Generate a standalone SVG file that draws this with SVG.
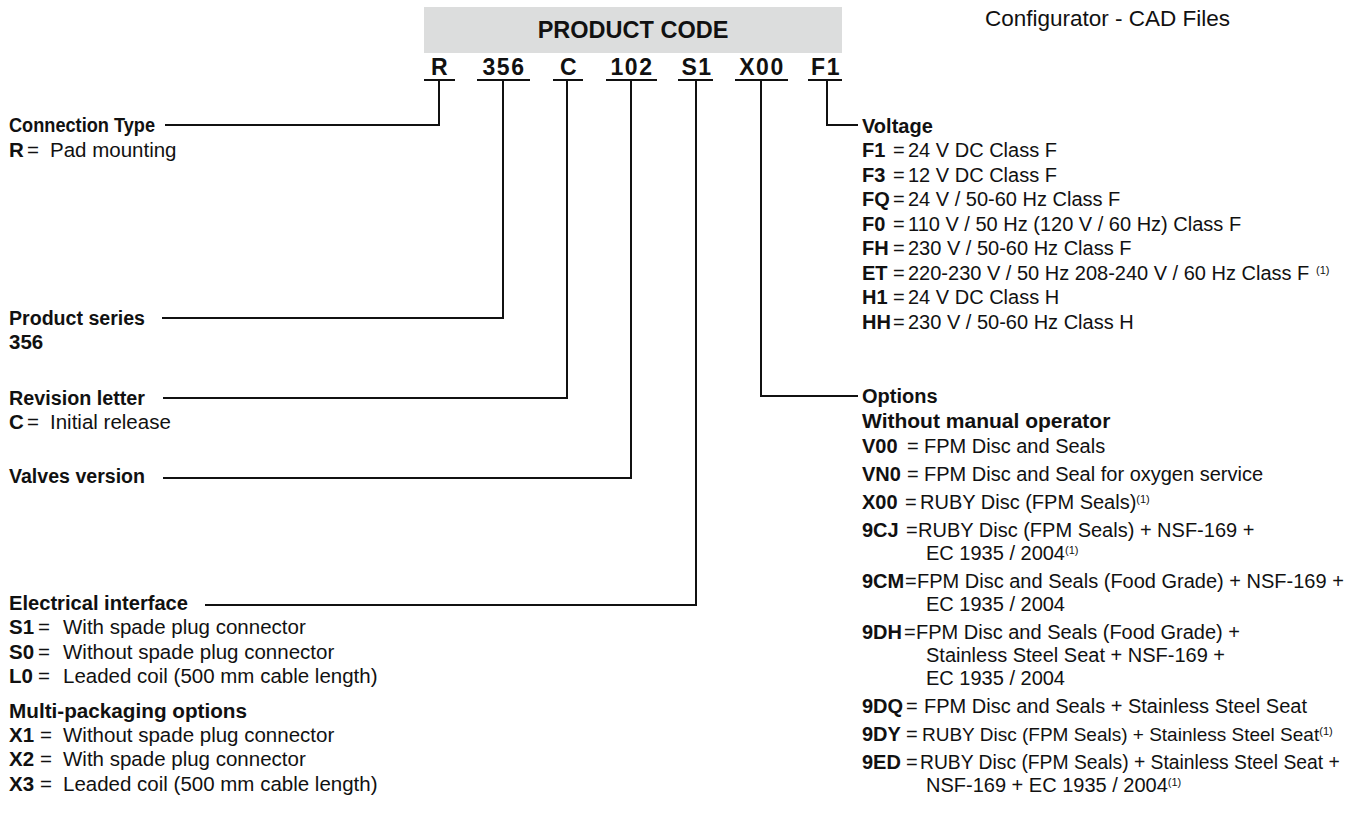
<svg xmlns="http://www.w3.org/2000/svg" width="1354" height="828" viewBox="0 0 1354 828">
<style>
text{font-family:"Liberation Sans",Arial,sans-serif;fill:#111;}
.h{font-weight:bold;font-size:20px;}
.b{font-size:20.5px;}
.r{font-size:20px;}
.k{font-weight:bold;}
.code{font-weight:bold;font-size:23px;text-anchor:middle;letter-spacing:1.5px;}
.sup{font-size:11px;}
.ln{stroke:#111;stroke-width:2;fill:none;}
</style>
<rect width="1354" height="828" fill="#fff"/>
<text x="985" y="26" style="font-size:22.5px">Configurator - CAD Files</text>
<g id="product-code">
<rect x="424" y="7" width="418" height="46" fill="#dcdddd"/>
<text x="633" y="38" style="font-weight:bold;font-size:23.5px;text-anchor:middle">PRODUCT CODE</text>
<text x="440" y="75" class="code">R</text>
<text x="504" y="75" class="code">356</text>
<text x="569" y="75" class="code">C</text>
<text x="632" y="75" class="code">102</text>
<text x="697" y="75" class="code">S1</text>
<text x="762" y="75" class="code">X00</text>
<text x="826" y="75" class="code">F1</text>
<path class="ln" d="M424 80H455M477 80H530M553 80H583M606 80H657M678 80H713M735 80H788M808 80H842"/>
</g>
<g id="connectors">
<path class="ln" d="M439 80V125H165"/>
<path class="ln" d="M503 80V318H162"/>
<path class="ln" d="M567 80V398H163"/>
<path class="ln" d="M631 80V478H163"/>
<path class="ln" d="M696 80V605H205"/>
<path class="ln" d="M761 80V396H858"/>
<path class="ln" d="M827 80V125H858"/>
</g>
<g id="connection-type">
<text x="9" y="132" class="h" textLength="146" lengthAdjust="spacingAndGlyphs">Connection Type</text>
<text x="9" y="157" class="b"><tspan class="k">R</tspan><tspan x="27">=</tspan><tspan x="50">Pad mounting</tspan></text>
</g>
<g id="product-series">
<text x="9" y="325" class="h" textLength="136" lengthAdjust="spacingAndGlyphs">Product series</text>
<text x="9" y="349" class="b k">356</text>
</g>
<g id="revision-letter">
<text x="9" y="405" class="h" textLength="136" lengthAdjust="spacingAndGlyphs">Revision letter</text>
<text x="9" y="429" class="b"><tspan class="k">C</tspan><tspan x="27">=</tspan><tspan x="50">Initial release</tspan></text>
</g>
<g id="valves-version">
<text x="9" y="483" class="h" textLength="136" lengthAdjust="spacingAndGlyphs">Valves version</text>
</g>
<g id="electrical-interface">
<text x="9" y="610" class="h" textLength="179" lengthAdjust="spacingAndGlyphs">Electrical interface</text>
<text x="9" y="634" class="b"><tspan class="k">S1</tspan><tspan x="38">=</tspan><tspan x="63">With spade plug connector</tspan></text>
<text x="9" y="659" class="b"><tspan class="k">S0</tspan><tspan x="38">=</tspan><tspan x="63">Without spade plug connector</tspan></text>
<text x="9" y="683" class="b"><tspan class="k">L0</tspan><tspan x="38">=</tspan><tspan x="63">Leaded coil (500 mm cable length)</tspan></text>
<text x="9" y="718" class="h" textLength="238" lengthAdjust="spacingAndGlyphs">Multi-packaging options</text>
<text x="9" y="742" class="b"><tspan class="k">X1</tspan><tspan x="40">=</tspan><tspan x="63">Without spade plug connector</tspan></text>
<text x="9" y="766" class="b"><tspan class="k">X2</tspan><tspan x="40">=</tspan><tspan x="63">With spade plug connector</tspan></text>
<text x="9" y="791" class="b"><tspan class="k">X3</tspan><tspan x="40">=</tspan><tspan x="63">Leaded coil (500 mm cable length)</tspan></text>
</g>
<g id="voltage">
<text x="862" y="133" class="h">Voltage</text>
<text x="862" y="157" class="r"><tspan class="k">F1</tspan><tspan x="893">=</tspan><tspan x="908">24 V DC Class F</tspan></text>
<text x="862" y="182" class="r"><tspan class="k">F3</tspan><tspan x="893">=</tspan><tspan x="908">12 V DC Class F</tspan></text>
<text x="862" y="206" class="r"><tspan class="k">FQ</tspan><tspan x="893">=</tspan><tspan x="908">24 V / 50-60 Hz Class F</tspan></text>
<text x="862" y="231" class="r"><tspan class="k">F0</tspan><tspan x="893">=</tspan><tspan x="908">110 V / 50 Hz (120 V / 60 Hz) Class F</tspan></text>
<text x="862" y="255" class="r"><tspan class="k">FH</tspan><tspan x="893">=</tspan><tspan x="908">230 V / 50-60 Hz Class F</tspan></text>
<text x="862" y="280" class="r"><tspan class="k">ET</tspan><tspan x="893">=</tspan><tspan x="908">220-230 V / 50 Hz 208-240 V / 60 Hz Class F</tspan><tspan class="sup" x="1316" dy="-6">(1)</tspan></text>
<text x="862" y="304" class="r"><tspan class="k">H1</tspan><tspan x="893">=</tspan><tspan x="908">24 V DC Class H</tspan></text>
<text x="862" y="329" class="r"><tspan class="k">HH</tspan><tspan x="893">=</tspan><tspan x="908">230 V / 50-60 Hz Class H</tspan></text>
</g>
<g id="options">
<text x="862" y="403" class="h">Options</text>
<text x="862" y="428" class="h" style="font-size:21px">Without manual operator</text>
<text x="862" y="453" class="r"><tspan class="k">V00</tspan><tspan x="907">=</tspan><tspan x="924">FPM Disc and Seals</tspan></text>
<text x="862" y="481" class="r"><tspan class="k">VN0</tspan><tspan x="907">=</tspan><tspan x="924">FPM Disc and Seal for oxygen service</tspan></text>
<text x="862" y="509" class="r"><tspan class="k">X00</tspan><tspan x="905">=</tspan><tspan x="920">RUBY Disc (FPM Seals)</tspan><tspan class="sup" dy="-6">(1)</tspan></text>
<text x="862" y="537" class="r"><tspan class="k">9CJ</tspan><tspan x="906">=</tspan><tspan x="918">RUBY Disc (FPM Seals) + NSF-169 +</tspan></text>
<text x="926" y="560" class="r">EC 1935 / 2004<tspan class="sup" dy="-6">(1)</tspan></text>
<text x="862" y="588" class="r"><tspan class="k">9CM</tspan><tspan x="905">=</tspan><tspan x="917">FPM Disc and Seals (Food Grade) + NSF-169 +</tspan></text>
<text x="926" y="611" class="r">EC 1935 / 2004</text>
<text x="862" y="639" class="r"><tspan class="k">9DH</tspan><tspan x="904">=</tspan><tspan x="916">FPM Disc and Seals (Food Grade) +</tspan></text>
<text x="926" y="662" class="r">Stainless Steel Seat + NSF-169 +</text>
<text x="926" y="685" class="r">EC 1935 / 2004</text>
<text x="862" y="713" class="r"><tspan class="k">9DQ</tspan><tspan x="906">=</tspan><tspan x="924">FPM Disc and Seals + Stainless Steel Seat</tspan></text>
<text x="862" y="741" class="r"><tspan class="k">9DY</tspan><tspan x="906">=</tspan><tspan x="922" style="font-size:19px">RUBY Disc (FPM Seals) + Stainless Steel Seat</tspan><tspan class="sup" dy="-6">(1)</tspan></text>
<text x="862" y="769" class="r"><tspan class="k">9ED</tspan><tspan x="906">=</tspan><tspan x="920" style="font-size:19.3px">RUBY Disc (FPM Seals) + Stainless Steel Seat +</tspan></text>
<text x="926" y="792" class="r">NSF-169 + EC 1935 / 2004<tspan class="sup" dy="-6">(1)</tspan></text>
</g>
</svg>
